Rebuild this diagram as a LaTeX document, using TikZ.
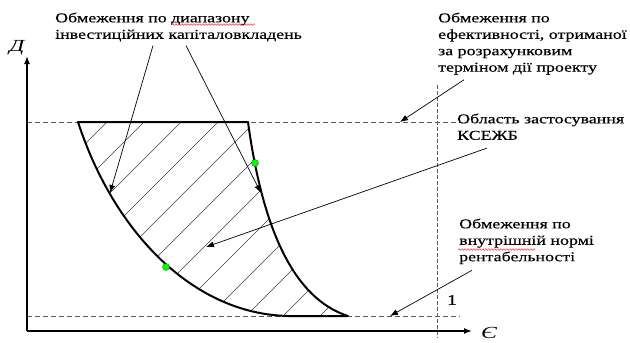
\documentclass[tikz,border=0pt]{standalone}
\usepackage{fontspec}
\setmainfont{Liberation Serif}
\newfontfamily\notefont[FakeStretch=1.33,FakeBold=0.4]{Liberation Serif}
\newfontfamily\axisfont[FakeStretch=1.4]{Liberation Serif}
\usetikzlibrary{arrows.meta,decorations.pathmorphing}

\begin{document}
\begin{tikzpicture}[
  x=1bp, y=-1bp,
  >={Latex[length=8bp,width=6bp]},
  note/.style={anchor=north west,align=left,inner sep=0pt,
    font=\notefont\fontsize{13.5}{16.5}\selectfont},
  axlab/.style={inner sep=0pt,font=\axisfont\fontsize{17}{17}\selectfont\itshape},
  guide/.style={dashed,dash pattern=on 5bp off 3bp,black!65,line width=0.8pt},
  ptr/.style={->,line width=0.7pt},
  axis/.style={->,line width=1.5pt},
  border/.style={line width=2pt,line join=round},
  hatch/.style={line width=0.5pt,black!75},
  spot/.style={circle,fill=green,draw=green!40!black,line width=0.3pt,
    minimum size=7bp,inner sep=0pt},
  wavy/.style={red,line width=0.4pt,decorate,
    decoration={snake,amplitude=0.8bp,segment length=3bp}}
]
  \useasboundingbox (0,0) rectangle (630,342);

  % guide lines
  \draw[guide] (27,122) -- (460,122);
  \draw[guide] (27,316) -- (460,316);
  \draw[guide,dash pattern=on 4bp off 2bp] (437,85) -- (437,338);

  % hatched area
  \begin{scope}
    \clip (78,122) -- (248,122) .. controls (262,225) and (292,298) .. (348,316)
      -- (288,316) .. controls (195,314) and (115,235) .. (78,122) -- cycle;
    \foreach \c in {229,266,...,700}
      \draw[hatch] (\c-100,100) -- (\c-350,350);
  \end{scope}
  \draw[border] (78,122) -- (248,122) .. controls (262,225) and (292,298) .. (348,316)
    -- (288,316) .. controls (195,314) and (115,235) .. (78,122) -- cycle;

  % axes
  \coordinate (O) at (27,331);
  \draw[axis] (O) -- (27,56);
  \draw[axis] (O) -- (472,331);
  \node[axlab] (ylab) at (17,48) {Д};
  \node[axlab,anchor=south] (xlab) at (489,339) {Є};
  \node[font=\notefont\fontsize{15}{15}\selectfont] (one) at (452,300) {1};

  \node[spot] (g1) at (255,163) {};
  \node[spot] (g2) at (166,267) {};

  % labels
  \node[note] (lim1) at (55,12.5) {Обмеження по диапазону\\інвестиційних капіталовкладень};
  \node[note] (lim2) at (438,12.5) {Обмеження по\\ефективності, отриманої\\за розрахунковим\\терміном дії проекту};
  \node[note] (area) at (457,113.5) {Область застосування\\КСЕЖБ};
  \node[note] (lim3) at (459,218.5) {Обмеження по\\внутрішній нормі\\рентабельності};
  \draw[wavy] (172,24.5) -- (255,24.5);
  \draw[wavy] (458,249.5) -- (535,249.5);

  % pointers
  \coordinate (t1) at (110,193);
  \coordinate (t2) at (261,193);
  \coordinate (t3) at (400,122);
  \coordinate (t4) at (206,247);
  \coordinate (t5) at (390,316);
  \draw[ptr] ([shift={(98,4)}]lim1.south west) -- (t1);
  \draw[ptr] ([shift={(131,4)}]lim1.south west) -- (t2);
  \draw[ptr] ([shift={(26,5)}]lim2.south west) -- (t3);
  \draw[ptr] ([shift={(30,8)}]area.south west) -- (t4);
  \draw[ptr] ([shift={(13,6)}]lim3.south west) -- (t5);
\end{tikzpicture}
\end{document}
